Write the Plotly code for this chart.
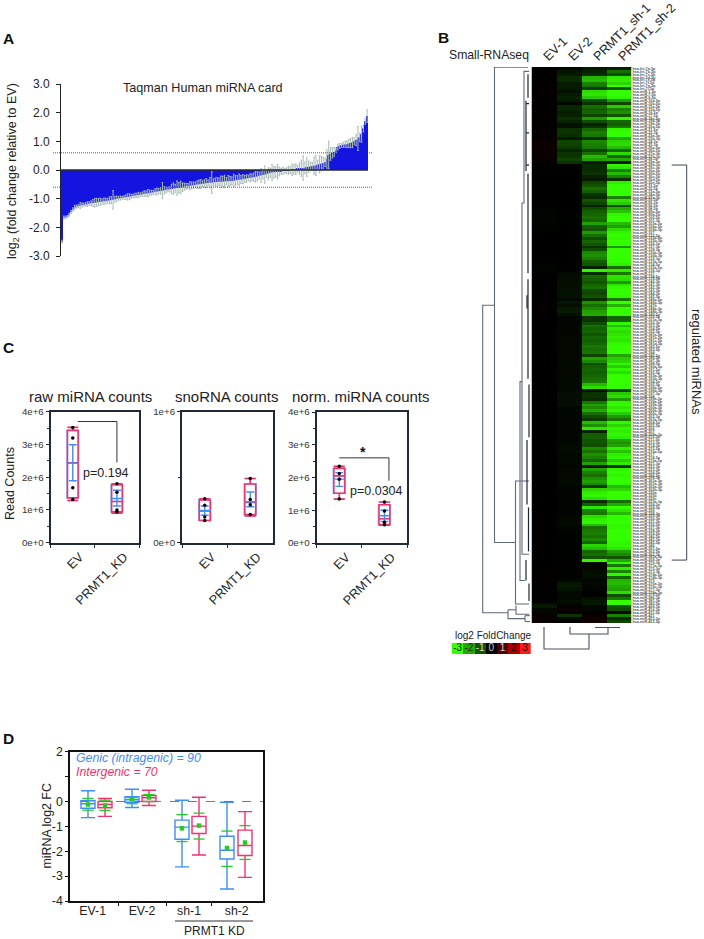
import plotly.graph_objects as go

W, H = 704, 939
FONT = "Liberation Sans"

# ---------- Panel A data ----------
A_VALUES = [-2.5,-1.66,-1.65,-1.63,-1.56,-1.46,-1.38,-1.31,-1.28,-1.26,
 -1.24,-1.22,-1.21,-1.20,-1.19,-1.17,-1.16,-1.15,-1.14,-1.13,
 -1.12,-1.11,-1.10,-1.09,-1.08,-1.07,-1.06,-1.05,-1.04,-1.02,
 -1.00,-0.99,-0.98,-0.97,-0.96,-0.95,-0.94,-0.93,-0.92,-0.90,
 -0.89,-0.88,-0.87,-0.86,-0.85,-0.83,-0.82,-0.81,-0.80,-0.79,
 -0.78,-0.76,-0.75,-0.74,-0.73,-0.72,-0.71,-0.70,-0.68,-0.67,
 -0.66,-0.65,-0.64,-0.63,-0.62,-0.61,-0.60,-0.58,-0.57,-0.56,
 -0.55,-0.54,-0.53,-0.52,-0.51,-0.50,-0.49,-0.48,-0.47,-0.46,
 -0.45,-0.44,-0.44,-0.43,-0.42,-0.42,-0.41,-0.41,-0.40,-0.40,
 -0.39,-0.39,-0.38,-0.38,-0.37,-0.36,-0.35,-0.34,-0.33,-0.32,
 -0.31,-0.30,-0.28,-0.27,-0.26,-0.25,-0.24,-0.22,-0.20,-0.19,
 -0.17,-0.16,-0.14,-0.12,-0.10,-0.09,-0.08,-0.07,-0.06,-0.05,
 -0.04,-0.03,-0.03,-0.02,-0.01,0.00,0.01,0.02,0.03,0.04,
 0.05,0.06,0.07,0.08,0.10,0.11,0.12,0.13,0.15,0.16,
 0.18,0.20,0.22,0.24,0.27,0.38,0.52,0.56,0.60,0.63,
 0.68,0.80,0.84,0.86,0.88,0.89,0.90,0.92,0.94,0.96,
 1.00,1.05,1.10,1.14,1.25,1.45,1.70,1.88]
A_ERRORS = [.05,.05,.04,.04,.05,.05,.06,.08,.05,.05,
 .1,.07,.05,.06,.08,.06,.08,.12,.15,.14,
 .12,.13,.09,.11,.1,.08,.12,.12,.32,.1,
 .09,.06,.07,.05,.06,.08,.11,.1,.07,.06,
 .08,.07,.09,.06,.08,.1,.09,.13,.1,.08,
 .07,.1,.12,.09,.11,.28,.13,.1,.08,.09,
 .16,.2,.14,.25,.18,.22,.15,.12,.1,.09,
 .14,.12,.11,.1,.13,.15,.16,.1,.13,.16,
 .1,.18,.38,.12,.14,.16,.13,.2,.18,.22,
 .13,.2,.16,.14,.22,.17,.15,.2,.14,.16,
 .12,.13,.1,.14,.12,.15,.18,.16,.12,.24,
 .14,.3,.12,.2,.16,.28,.2,.18,.25,.15,
 .1,.12,.08,.1,.14,.12,.2,.16,.18,.12,
 .2,.28,.42,.2,.32,.2,.15,.14,.3,.35,
 .16,.3,.25,.2,.15,.32,.48,.22,.18,.15,
 .08,.1,.08,.07,.09,.1,.12,.14,.16,.18,
 .12,.2,.42,.15,.28,.12,.1,.22]
A_TICKS = [3, 2, 1, 0, -1, -2, -3]
A_TICKTEXT = ["3.0", "2.0", "1.0", "0.0", "-1.0", "-2.0", "-3.0"]
A_THRESHOLD = 0.6

# ---------- Panel B data ----------
HEAT_COLUMNS = ["EV-1", "EV-2", "PRMT1_sh-1", "PRMT1_sh-2"]
EV1 = [.05,.05,.04,.04,.04,.04,.04,.05,.05,.05,
 .05,.05,.04,.06,.06,.06,.05,.05,.04,.04,
 .05,.05,.05,.05,.06,.12,.14,.14,.11,.11,
 .11,.11,.06,0,0,0,0,0,0,0,
 0,0,0,0,0,0,0,0,-.03,-.05,
 -.06,-.08,-.08,-.05,-.03,-.03,0,0,0,0,
 0,0,0,0,0,0,0,-.04,-.05,-.05,
 -.02,0,0,0,0,0,0,0,0,0,
 .02,.03,.05,.05,.01,0,0,0,0,0,
 0,0,0,0,0,0,0,0,0,0,
 0,0,0,0,0,0,0,0,0,0,
 0,0,0,0,0,0,0,0,0,0,
 0,0,0,0,0,0,0,0,0,0,
 0,0,0,0,0,0,0,0,0,0,
 0,0,0,0,0,0,0,0,0,0,
 0,0,0,0,0,0,0,0,0,0,
 0,0,0,0,0,0,0,0,0,0,
 0,0,.03,.05,.05,.05,.03,0,0,0,
 0,0,0,-.2,-.3,-.1,-.1,.08,.1,.08]
EV2 = [-.1,-.25,-.3,-.5,-.5,-.3,-.35,-.3,-.2,-.3,
 -.4,-.3,-.1,-.45,-.45,-.35,-.4,-.55,-.4,-.2,
 -.2,-.6,-.6,-.55,-.3,-.8,-.8,-.7,-.4,-.6,
 -.6,-.8,-.6,0,0,0,0,0,0,0,
 0,0,0,0,0,0,0,0,0,0,
 -.02,-.02,-.02,-.02,0,0,0,0,0,0,
 0,0,0,0,0,0,0,0,0,0,
 -.12,-.15,-.15,-.15,-.15,-.15,-.2,-.2,-.2,-.12,
 -.25,-.15,-.3,-.3,-.2,-.08,-.08,-.08,-.08,-.08,
 -.1,-.1,-.1,-.1,-.1,-.1,-.1,-.1,-.1,-.1,
 -.12,-.12,-.12,-.1,-.1,-.1,-.1,-.12,-.12,-.1,
 -.1,-.15,-.15,-.15,-.15,-.2,-.1,-.1,-.08,-.08,
 -.08,-.08,-.08,-.08,-.08,-.08,-.08,-.08,-.1,-.12,
 -.14,-.14,-.12,-.1,-.1,-.1,-.05,-.1,-.1,-.1,
 -.1,-.12,-.12,-.05,-.05,-.05,-.05,-.05,-.05,-.05,
 -.05,-.05,-.05,-.08,-.1,-.12,-.12,-.06,-.04,-.02,
 -.02,-.02,-.02,-.02,-.02,-.02,-.02,-.02,-.02,0,
 -.02,-.02,-.02,-.02,-.02,-.1,-.25,-.3,-.2,-.1,
 -.1,-.1,-.15,-.1,.1,.1,0,-.6,-.1,0]
SH1 = [-0.3,-0.4,-0.5,-2.1,-2.2,-1.5,-1.4,-0.7,-2.6,-2.7,
 -2.4,-0.9,-0.6,-1.3,-1.1,-1.2,-0.8,-1.8,-0.9,-0.4,
 -0.6,-1.2,-1.5,-1.4,-0.6,-1.6,-1.5,-1.4,-0.8,-1.3,
 -2.2,-1.9,-0.3,-0.5,-0.5,-0.5,-0.6,-0.4,-0.3,-0.8,
 -1.0,-1.3,-1.1,-0.6,-0.5,-1.0,-0.8,-0.4,-0.9,-1.1,
 -1.2,-1.3,-1.2,-1.9,-1.1,-1.0,-1.8,-1.3,-0.9,-1.2,
 -1.0,-0.6,-0.9,-1.6,-1.7,-1.5,-1.1,-1.0,-0.4,-2.9,
 -0.5,-1.2,-1.1,-1.0,-1.2,-1.3,-0.9,-0.8,-1.0,-0.5,
 -1.7,-1.3,-1.6,-1.9,-2.0,-0.6,-0.6,-0.9,-1.3,-1.1,
 -1.2,-1.0,-1.2,-1.1,-1.2,-1.4,-1.3,-1.4,-0.8,-1.9,
 -1.6,-0.9,-1.1,-1.2,-1.1,-1.2,-1.3,-1.4,-2.2,-2.6,
 -0.2,-0.6,-0.6,-0.5,-1.4,-1.9,-1.6,-2.0,-1.3,-0.9,
 -0.7,-2.2,-1.7,-2.7,-0.4,-1.1,-1.1,-1.0,-1.0,-0.9,
 -1.6,-1.3,-1.7,-1.5,-1.2,-1.9,-0.3,-1.9,-1.5,-1.3,
 -1.7,-1.9,-1.6,-0.7,-2.5,-2.8,-2.9,-2.6,-0.5,-1.1,
 -2.7,-1.5,-1.4,-2.6,-2.8,-2.9,-2.2,-1.3,-1.4,-1.5,
 -1.3,-1.6,-1.2,-2.5,-2.2,-1.2,-1.3,-1.0,-2.9,-0.1,
 -0.1,-0.1,-0.15,-0.2,-0.15,-0.1,-0.1,-0.1,-0.05,0,
 0,-0.2,-0.25,-0.3,-0.1,-0.1,0,0.1,0.2,0.2]
SH2 = [-0.4,-1.3,-0.9,-2.7,-2.8,-2.5,-3,-1,-3,-3,
 -2.9,-1.9,-0.8,-2.4,-1.5,-1.7,-1.0,-2.9,-1.2,-1.1,
 -1.4,-2.9,-3,-3,-2.0,-2.5,-2.6,-2.2,-1.2,-2.6,
 -1.2,-2.0,-0.3,-2.9,-2.7,-1.5,-2.2,-1.5,-0.6,-2.8,
 -3,-3,-3,-3,-1.5,-2.7,-2.4,-0.9,-2.0,-2.3,
 -2.9,-3,-3,-2.2,-1.9,-2.6,-2.9,-3,-2.9,-3,
 -3,-1.8,-3,-3,-3,-3,-3,-2.8,-1.3,-2.8,
 -1.4,-2.7,-2.6,-1.8,-2.7,-2.9,-3,-3,-2.9,-1.4,
 -3,-2.1,-3,-3,-3,-1.2,-1.2,-2.9,-2.2,-2.8,
 -2.6,-2.7,-2.8,-2.7,-2.9,-3,-3,-3,-1.9,-2.4,
 -2.5,-2.9,-2.4,-2.9,-2.6,-3,-3,-3,-3,-3,
 -0.8,-2.4,-2.6,-1.8,-2.9,-3,-2.7,-2.9,-2.4,-1.8,
 -1.4,-2.9,-2.5,-2.9,-2.8,-2.9,-2.8,-1.9,-1.7,-1.9,
 -2.8,-2.3,-2.8,-2.9,-2.4,-2.8,-0.6,-2.9,-3,-2.9,
 -3,-3,-2.9,-2.2,-2.5,-3,-3,-3,-1.3,-2.0,
 -3,-2.7,-2.2,-3,-3,-3,-2.9,-2.9,-3,-3,
 -3,-3,-2.9,-2.9,-2.7,-1.9,-1.6,-1.0,-2.0,-2.9,
 -1.4,-2.8,-1.5,-2.9,-1.2,-2.1,-2.2,-2.0,-1.9,-2.6,
 -0.9,-1.4,-3,-3,-1.0,-0.9,-0.1,-1.5,-0.5,-0.8]
MIRNA_LABELS = """let-7a-5p let-7b-5p let-7c-5p let-7d-5p let-7e-5p let-7f-5p let-7g-5p let-7i-5p miR-1-3p miR-7-5p
miR-9-5p miR-10a-5p miR-10b-5p miR-15a-5p miR-15b-5p miR-16-5p miR-17-5p miR-18a-5p miR-19a-3p miR-19b-3p
miR-20a-5p miR-21-5p miR-22-3p miR-23a-3p miR-23b-3p miR-24-3p miR-25-3p miR-26a-5p miR-26b-5p miR-27a-3p
miR-27b-3p miR-28-3p miR-29a-3p miR-29b-3p miR-29c-3p miR-30a-5p miR-30b-5p miR-30c-5p miR-30d-5p miR-30e-5p
miR-31-5p miR-32-5p miR-33a-5p miR-34a-5p miR-92a-3p miR-93-5p miR-95-3p miR-96-5p miR-98-5p miR-99a-5p
miR-99b-5p miR-100-5p miR-101-3p miR-103a-3p miR-106a-5p miR-106b-5p miR-107 miR-122-5p miR-125a-5p miR-125b-5p
miR-126-3p miR-127-3p miR-128-3p miR-130a-3p miR-130b-3p miR-132-3p miR-133a-3p miR-134-5p miR-135a-5p miR-136-3p
miR-137 miR-138-5p miR-139-5p miR-140-3p miR-141-3p miR-142-3p miR-143-3p miR-144-3p miR-145-5p miR-146a-5p
miR-146b-5p miR-147b miR-148a-3p miR-148b-3p miR-149-5p miR-150-5p miR-151a-3p miR-152-3p miR-153-3p miR-154-5p
miR-155-5p miR-181a-5p miR-181b-5p miR-181c-5p miR-181d-5p miR-182-5p miR-183-5p miR-184 miR-185-5p miR-186-5p
miR-187-3p miR-188-5p miR-190a-5p miR-191-5p miR-192-5p miR-193a-3p miR-193b-3p miR-194-5p miR-195-5p miR-196a-5p
miR-196b-5p miR-197-3p miR-198 miR-199a-3p miR-199a-5p miR-199b-5p miR-200a-3p miR-200b-3p miR-200c-3p miR-202-3p
miR-203a-3p miR-204-5p miR-205-5p miR-206 miR-207 miR-208a-3p miR-210-3p miR-211-5p miR-212-3p miR-214-3p
miR-215-5p miR-216a-5p miR-217 miR-218-5p miR-219a-5p miR-221-3p miR-222-3p miR-223-3p miR-224-5p miR-296-5p
miR-299-3p miR-301a-3p miR-301b-3p miR-302a-3p miR-302b-3p miR-320a miR-320b miR-320c miR-323a-3p miR-324-3p
miR-324-5p miR-326 miR-328-3p miR-329-3p miR-330-3p miR-331-3p miR-335-5p miR-337-3p miR-338-3p miR-339-5p
miR-340-5p miR-342-3p miR-345-5p miR-346 miR-361-5p miR-362-5p miR-363-3p miR-365a-3p miR-369-3p miR-370-3p
miR-371a-3p miR-372-3p miR-373-3p miR-374a-5p miR-374b-5p miR-375 miR-376a-3p miR-376c-3p miR-377-3p miR-378a-3p
miR-379-5p miR-380-3p miR-381-3p miR-382-5p miR-409-3p miR-410-3p miR-411-5p miR-421 miR-423-3p miR-423-5p""".split()
LEGEND_VALUES = [-3, -2, -1, 0, 1, 2, 3]
LEGEND_TEXT_COLORS = ["#1a2a10", "#1a2a10", "#d8e0d0", "#c8c8c8", "#e0d0d0", "#220000", "#220000"]
HEAT_SCALE = [[0, "#33ff00"], [1/6, "#22aa00"], [2/6, "#115500"], [0.5, "#000000"],
              [4/6, "#550000"], [5/6, "#aa0000"], [1, "#ff1a1a"]]
# left dendrogram: (distance, row index)
DENDRO_LEFT = [
 [(36.5,80.9),(48.3,80.9),(48.3,186),(23,186)],
 [(3,-.4),(36.5,-.4),(36.5,162),(15.5,162)],
 [(2,141),(11,141),(15.5,141),(15.5,183),(2,183)],
 [(9,107),(11,107),(11,175),(6,175)],
 [(8,46),(9,46),(9,166),(2,166)],
 [(2,1),(7,1),(7,46),(8,46)],
 [(23,185),(15,185)],
 [(23,185),(23,188),(6,188)],
 [(15,183.5),(15,186.5),(2,186.5)],
 [(6,187),(6,189)],
 [(6,187),(1,187)],
 [(6,189),(1,189)],
]
DENDRO_LEFT_DARK = [
 [(5,11),(5,35)], [(3,36),(3,70)], [(3,72),(3,106)], [(4,77.5),(4,82)],
 [(2,108),(2,126)], [(4,127),(4,149)], [(2.5,150),(2.5,165)], [(5,168),(5,175)],
 [(3,2),(3,10)], [(2,12),(5,12)], [(2,22),(5,22)], [(2,33),(5,33)], [(2,176),(2,182)],
]
# top dendrogram: (column index, height)
DENDRO_TOP = [
 [(0,1),(0,23),(1.8,23),(1.8,8)],
 [(1.04,1),(1.04,8),(2.56,8),(2.56,1.5)],
 [(2.04,1.5),(3.04,1.5)],
]
BRACKET_ROWS = [33, 168]

# ---------- Panel C data ----------
C_CATS = ["EV", "PRMT1_KD"]
C_TITLES = ["raw miRNA counts", "snoRNA counts", "norm. miRNA counts"]
C_Q1 = [[1.37e6, .94e6], [1.7e5, 2.14e5], [1.52e6, .56e6]]
C_MED = [[2.44e6, 1.26e6], [2.42e5, 3.08e5], [2.05e6, .74e6]]
C_Q3 = [[3.43e6, 1.77e6], [3.26e5, 4.48e5], [2.28e6, 1.17e6]]
C_LOW = [[1.29e6, .9e6], [1.7e5, 2.04e5], [1.34e6, .54e6]]
C_HIGH = [[3.52e6, 1.8e6], [3.36e5, 4.9e5], [2.34e6, 1.25e6]]
C_MEAN = [[2.43e6, 1.35e6], [2.47e5, 3.13e5], [1.95e6, .83e6]]
C_SD_HI = [[2.99e6, 1.6e6], [2.8e5, 3.87e5], [2.15e6, 1.0e6]]
C_SD_LO = [[1.89e6, 1.12e6], [2.1e5, 2.75e5], [1.73e6, .66e6]]
C_POINTS = [[[3.52e6, 3.2e6, 1.68e6, 1.32e6], [1.8e6, 1.54e6, 1.0e6, .94e6]],
            [[3.36e5, 2.85e5, 1.96e5, 1.7e5], [4.91e5, 3.3e5, 2.9e5, 2.16e5]],
            [[2.34e6, 2.12e6, 1.95e6, 1.34e6], [1.25e6, .98e6, .63e6, .56e6]]]

# ---------- Panel D data ----------
D_CATS = ["EV-1", "EV-2", "sh-1", "sh-2"]
D_SPLITS = [118, 166.7, 211]
D_LABEL_POS = [92.7, 142, 189, 236.7]
D_BLUE_POS = [88, 132, 182, 227]
D_PINK_POS = [105, 149, 199, 245]
G_LOW = [-.65, -.24, -2.63, -3.52]
G_Q1 = [-.27, -.03, -1.52, -2.31]
G_MED = [-.09, .07, -1.03, -1.96]
G_Q3 = [.03, .19, -.75, -1.4]
G_HIGH = [.43, .49, .05, -.03]
G_MEAN = [-.12, .09, -1.08, -1.87]
G_SD_HI = [.12, .15, -.53, -1.19]
G_SD_LO = [-.35, -.09, -1.61, -2.61]
I_LOW = [-.6, -.16, -2.15, -3.05]
I_Q1 = [-.25, 0, -1.29, -2.17]
I_MED = [-.12, .15, -.99, -1.77]
I_Q3 = [0, .24, -.6, -1.15]
I_HIGH = [.12, .45, .17, -.41]
I_MEAN = [-.16, .16, -.97, -1.65]
I_SD_HI = [.05, .28, -.47, -.97]
I_SD_LO = [-.36, 0, -1.51, -2.33]
D_TICKS = [2, 0, -1, -2, -3, -4]
D_TICKTEXT = ["2", "0", "-1", "-2", "-3", "-4"]
D_MINOR_TICKS = [1]

BLUE = "#3f8ef5"
LIGHT_BLUE = "#8fc4ff"
PINK = "#f0326e"
GREEN = "#22cc22"
FRAME = "#1f2937"
BAR = "#1414e0"
ERR = "#a9bab6"
TXT = "#222222"


def dx(l, r):
    return [l / W, r / W]


def dy(t, b):
    return [1 - b / H, 1 - t / H]


def flatten(paths):
    xs, ys = [], []
    for p in paths:
        for a, b in p:
            xs.append(a)
            ys.append(b)
        xs.append(None)
        ys.append(None)
    return xs, ys


fig = go.Figure()
annots = []
shapes = []


def note(text, px, py, size=12, color=TXT, angle=0, xa="center", ya="middle", style="normal", weight="normal"):
    annots.append(dict(text=text, x=px / W, y=1 - py / H, xref="paper", yref="paper", showarrow=False,
                       font=dict(family=FONT, size=size, color=color, style=style, weight=weight), textangle=angle,
                       xanchor=xa, yanchor=ya))


# Panel A
fig.add_trace(go.Bar(x=list(range(len(A_VALUES))), y=A_VALUES, marker=dict(color=BAR, line=dict(width=0)),
                     error_y=dict(type="data", array=A_ERRORS, color=ERR, thickness=1, width=0.8),
                     xaxis="x", yaxis="y"))
for v in (A_THRESHOLD, -A_THRESHOLD):
    shapes.append(dict(type="line", xref="paper", yref="y", x0=53 / W, x1=372 / W, y0=v, y1=v,
                       line=dict(color="#333333", width=0.8, dash="1px,1px")))
shapes.append(dict(type="line", xref="paper", yref="y", x0=60 / W, x1=368 / W, y0=0, y1=0,
                   line=dict(color="#2a2a2a", width=1.3)))
note("Taqman Human miRNA card", 203, 88, 12.6)
note("log<sub>2</sub> (fold change relative to EV)", 13, 171, 12.5, angle=-90)

# Panel B
fig.add_trace(go.Heatmap(z=[list(r) for r in zip(EV1, EV2, SH1, SH2)], x=HEAT_COLUMNS,
                         y=list(range(len(SH1))), colorscale=HEAT_SCALE, zmin=-3, zmax=3,
                         showscale=False, xaxis="x6", yaxis="y6"))
xs, ys = flatten(DENDRO_LEFT)
fig.add_trace(go.Scatter(x=xs, y=ys, mode="lines", line=dict(color="#5f6b78", width=1.1),
                         xaxis="x7", yaxis="y6", hoverinfo="skip"))
xs, ys = flatten(DENDRO_LEFT_DARK)
fig.add_trace(go.Scatter(x=xs, y=ys, mode="lines", line=dict(color="#1c2530", width=1.2),
                         xaxis="x7", yaxis="y6", hoverinfo="skip"))
xs, ys = flatten(DENDRO_TOP)
fig.add_trace(go.Scatter(x=xs, y=ys, mode="lines", line=dict(color="#46525f", width=1.1),
                         xaxis="x8", yaxis="y8", hoverinfo="skip"))
fig.add_trace(go.Heatmap(z=[LEGEND_VALUES], x=LEGEND_VALUES, y=[0], colorscale=HEAT_SCALE, zmin=-3, zmax=3,
                         showscale=False, xaxis="x9", yaxis="y9"))
fig.add_trace(go.Scatter(x=LEGEND_VALUES, y=[0] * 7, mode="text", text=[str(v) for v in LEGEND_VALUES],
                         textfont=dict(family=FONT, size=10, color=LEGEND_TEXT_COLORS),
                         xaxis="x9", yaxis="y9", hoverinfo="skip"))
note("Small-RNAseq", 531, 55, 12.2, xa="right")
note("log2 FoldChange", 493, 635, 10)
note("regulated miRNAs", 697, 362, 13, angle=90)
shapes.append(dict(type="path", xref="paper", yref="y6",
                   path=f"M {671.7/W} {BRACKET_ROWS[0]} L {686.7/W} {BRACKET_ROWS[0]} L {686.7/W} {BRACKET_ROWS[1]} L {671.7/W} {BRACKET_ROWS[1]}",
                   line=dict(color="#3a4652", width=1)))

# Panel C
C_AXES = [("x2", "y2"), ("x3", "y3"), ("x4", "y4")]
for i, (xa, ya) in enumerate(C_AXES):
    for j, cat in enumerate(C_CATS):
        fig.add_trace(go.Box(x=[cat], q1=[C_Q1[i][j]], median=[C_MED[i][j]], q3=[C_Q3[i][j]],
                             lowerfence=[C_LOW[i][j]], upperfence=[C_HIGH[i][j]], width=0.27, whiskerwidth=1,
                             boxpoints=False, fillcolor="rgba(0,0,0,0)", line=dict(color=LIGHT_BLUE, width=1.4),
                             xaxis=xa, yaxis=ya))
        fig.add_trace(go.Scatter(x=[cat], y=[C_MEAN[i][j]], mode="markers",
                                 marker=dict(symbol="line-ew", size=9, line=dict(color=BLUE, width=1.4)),
                                 error_y=dict(type="data", symmetric=False,
                                              array=[C_SD_HI[i][j] - C_MEAN[i][j]],
                                              arrayminus=[C_MEAN[i][j] - C_SD_LO[i][j]],
                                              color=BLUE, thickness=1.4, width=4),
                                 xaxis=xa, yaxis=ya))
        fig.add_trace(go.Box(x=[cat], q1=[C_Q1[i][j]], median=[C_MED[i][j]], q3=[C_Q3[i][j]],
                             lowerfence=[C_LOW[i][j]], upperfence=[C_HIGH[i][j]], width=0.24, whiskerwidth=1,
                             boxpoints=False, fillcolor="rgba(0,0,0,0)", line=dict(color=PINK, width=1.6),
                             xaxis=xa, yaxis=ya))
        fig.add_trace(go.Scatter(x=[cat] * 4, y=C_POINTS[i][j], mode="markers",
                                 marker=dict(color="black", size=3.5), xaxis=xa, yaxis=ya))
for t, cx in zip(C_TITLES, (90.5, 226.5, 361)):
    note(t, cx, 396.7, 15)
note("Read Counts", 10, 484, 12.5, angle=-90)
shapes.append(dict(type="path", xref="x2", yref="y2", path="M 0.11 3.7e6 L 1 3.7e6 L 1 2.45e6",
                   line=dict(color="#333333", width=1)))
note("p=0.194", 106, 472.7, 12.5)
shapes.append(dict(type="path", xref="x4", yref="y4", path="M 0 2.6e6 L 1.1 2.6e6 L 1.1 1.9e6",
                   line=dict(color="#333333", width=1)))
note("*", 363, 452, 14, color="#111111", weight="bold")
note("p=0.0304", 376.7, 491, 12.5)

# Panel D
for pos, lo, q1, med, q3, hi, mean, sh, sl, col in (
        (D_BLUE_POS, G_LOW, G_Q1, G_MED, G_Q3, G_HIGH, G_MEAN, G_SD_HI, G_SD_LO, BLUE),
        (D_PINK_POS, I_LOW, I_Q1, I_MED, I_Q3, I_HIGH, I_MEAN, I_SD_HI, I_SD_LO, PINK)):
    fig.add_trace(go.Scatter(x=pos, y=mean, mode="markers",
                             marker=dict(symbol="square", size=4.5, color=GREEN),
                             xaxis="x5", yaxis="y5"))
    for bound in (sh, sl):
        fig.add_trace(go.Scatter(x=pos, y=bound, mode="markers",
                                 marker=dict(symbol="line-ew", size=8, line=dict(color=GREEN, width=1.3)),
                                 xaxis="x5", yaxis="y5"))
    fig.add_trace(go.Box(x=pos, q1=q1, median=med, q3=q3, lowerfence=lo, upperfence=hi, width=14,
                         whiskerwidth=1, boxpoints=False, fillcolor="rgba(0,0,0,0)",
                         line=dict(color=col, width=1.4), xaxis="x5", yaxis="y5"))
shapes.append(dict(type="line", xref="paper", yref="y5", x0=80 / W, x1=263 / W, y0=0, y1=0,
                   line=dict(color="#777777", width=1, dash="dash")))
note("Genic (intragenic) = 90", 73.5, 757.5, 12.3, color=BLUE, xa="left", style="italic")
note("Intergenic = 70", 73.5, 771.5, 12.3, color=PINK, xa="left", style="italic")
note("miRNA log2 FC", 46.5, 826, 12.4, angle=-90)
note("PRMT1 KD", 214, 931, 12)
shapes.append(dict(type="line", xref="paper", yref="paper", x0=175 / W, x1=253 / W, y0=1 - 921 / H, y1=1 - 921 / H,
                   line=dict(color="#333333", width=1)))

# Panel letters
for t, px, py in (("A", 8.5, 38.5), ("B", 443, 37.5), ("C", 8.5, 347), ("D", 8.5, 738)):
    note(t, px, py, 15.5, color="#111111", weight="bold")

C_TICK = dict(color="#333333", family=FONT, size=9.7)
def c_y(t, b, rng, vals, text, minor):
    return dict(domain=dy(t, b), range=rng, tickmode="array", tickvals=vals, ticktext=text, ticks="outside",
                ticklen=3, tickwidth=1.2, tickcolor=FRAME, tickfont=C_TICK, showgrid=False, zeroline=False,
                showline=True, linecolor=FRAME, linewidth=2, mirror=True, automargin=False,
                minor=dict(tickmode="array", tickvals=minor, ticks="outside", ticklen=2, tickwidth=1, tickcolor=FRAME, showgrid=False))
def c_x(l, r, anchor):
    return dict(domain=dx(l, r), anchor=anchor, type="category", categoryorder="array", categoryarray=C_CATS,
                range=[-.5, 1.5], tickson="boundaries", ticks="outside", ticklen=3, tickwidth=1.2, tickcolor=FRAME,
                tickangle=-45, ticklabelshift=7, tickfont=dict(family=FONT, size=12.6, color=TXT), showgrid=False, zeroline=False,
                showline=True, linecolor=FRAME, linewidth=2, mirror=True, automargin=False)

HALF = [.5e6, 1.5e6, 2.5e6, 3.5e6]
M4 = [0, 1e6, 2e6, 3e6, 4e6]
L4 = ["0e+0", "1e+6", "2e+6", "3e+6", "4e+6"]

hidden = dict(visible=False, showgrid=False, zeroline=False, automargin=False)
fig.update_layout(
    template="none",
    width=W, height=H, autosize=False, margin=dict(l=0, r=0, t=0, b=0, pad=0), showlegend=False,
    paper_bgcolor="white", plot_bgcolor="rgba(0,0,0,0)", bargap=0.06, boxmode="overlay",
    font=dict(family=FONT, color=TXT), annotations=annots, shapes=shapes,
    # A
    xaxis=dict(domain=dx(61, 368), range=[-.5, len(A_VALUES) - .5], anchor="y", **hidden),
    yaxis=dict(domain=dy(84, 256), range=[-3, 3], anchor="x", tickmode="array", tickvals=A_TICKS, ticktext=A_TICKTEXT,
               ticks="outside", ticklen=4, tickwidth=1, tickcolor="#222", showline=True, linecolor="#222", linewidth=1,
               ticklabelstandoff=4, showgrid=False, zeroline=False, tickfont=dict(family=FONT, size=12, color=TXT), automargin=False),
    # C
    xaxis2=c_x(50.7, 139, "y2"), yaxis2=c_y(411.7, 542.7, [0, 4e6], M4, L4, HALF) | dict(anchor="x2"),
    xaxis3=c_x(182, 273, "y3"), yaxis3=c_y(411.7, 542.7, [0, 1e6], [0, 1e6], ["0e+0", "1e+6"], [.5e6]) | dict(anchor="x3"),
    xaxis4=c_x(316.7, 407, "y4"), yaxis4=c_y(412, 543, [0, 4e6], M4, L4, HALF) | dict(anchor="x4"),
    # D
    xaxis5=dict(domain=dx(70, 263), range=[70, 263], anchor="y5", tickmode="array", tickvals=D_LABEL_POS, ticktext=D_CATS,
                ticks="", ticklabelstandoff=-3, tickfont=dict(family=FONT, size=12.3, color=TXT), showgrid=False, zeroline=False,
                showline=True, linecolor="#111", linewidth=1.5, mirror=True, automargin=False,
                minor=dict(tickmode="array", tickvals=D_SPLITS, ticks="outside", ticklen=3, tickwidth=1.2, tickcolor="#111", showgrid=False)),
    yaxis5=dict(domain=dy(751.7, 901), range=[-4, 2], anchor="x5", tickmode="array", tickvals=D_TICKS, ticktext=D_TICKTEXT,
                ticks="outside", ticklen=3, tickwidth=1.2, tickcolor="#111", showgrid=False, zeroline=False,
                minor=dict(tickmode="array", tickvals=D_MINOR_TICKS, ticks="outside", ticklen=3, tickwidth=1.2, tickcolor="#111", showgrid=False),
                tickfont=dict(family=FONT, size=12.3, color=TXT), showline=True, linecolor="#111", linewidth=1.5, mirror=True, automargin=False),
    # Heatmap
    xaxis6=dict(domain=dx(531.5, 631.5), anchor="y6", side="top", tickangle=-45, ticks="", showgrid=False, zeroline=False,
                showline=False, tickfont=dict(family=FONT, size=12.7, color=TXT), type="category", automargin=False),
    yaxis6=dict(domain=dy(67, 623), anchor="x6", side="right", range=[len(SH1) - .5, -.5], tickmode="array",
                tickvals=list(range(len(MIRNA_LABELS))), ticktext=["hsa-" + s for s in MIRNA_LABELS], ticks="",
                tickfont=dict(family=FONT, size=3.7, color="#555555", weight="bold"), showgrid=False, zeroline=False, showline=False, automargin=False),
    xaxis7=dict(domain=dx(481.5, 531), range=[49.5, 0], anchor="y6", **hidden),
    xaxis8=dict(domain=dx(531.5, 631.5), range=[-.5, 3.5], anchor="y8", **hidden),
    yaxis8=dict(domain=dy(626, 650), range=[24, 0], anchor="x8", **hidden),
    xaxis9=dict(domain=dx(452, 530.7), anchor="y9", **hidden),
    yaxis9=dict(domain=dy(643, 654), anchor="x9", **hidden),
)

fig.write_html("out.html", config={"displayModeBar": False},
               post_script="document.body.style.margin='0';document.body.style.overflow='hidden';")
